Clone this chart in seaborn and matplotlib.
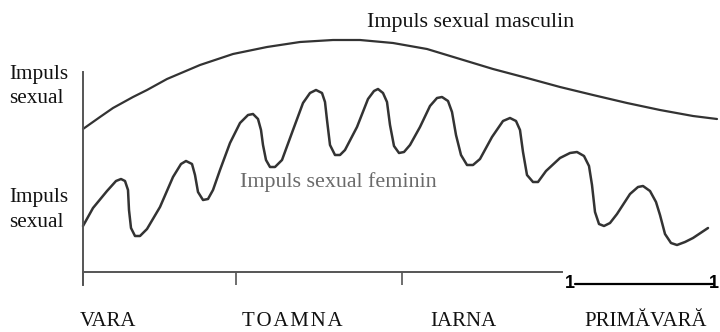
import matplotlib
matplotlib.use("Agg")
import matplotlib.pyplot as plt
import seaborn as sns
import pandas as pd

# time along the year (arbitrary units, 0 = start of summer) and drive level
female_t = [0.0, 1.0, 2.4, 3.3, 3.8, 4.2, 4.5, 4.6, 4.8, 5.2, 5.7, 6.4, 7.7, 9.0, 9.8, 10.3,
            10.9, 11.2, 11.5, 12.0, 12.5, 13.0, 13.7, 14.7, 15.7, 16.5, 17.0, 17.5, 17.8, 18.0,
            18.3, 18.7, 19.2, 19.9, 21.0, 22.0, 22.7, 23.3, 23.9, 24.2, 24.4, 24.7, 25.2, 25.7,
            26.2, 27.4, 28.5, 29.1, 29.5, 30.0, 30.4, 30.7, 31.1, 31.6, 32.1, 32.7, 33.7, 34.7,
            35.4, 35.9, 36.5, 36.9, 37.3, 37.8, 38.4, 39.0, 39.7, 40.9, 42.0, 42.7, 43.3, 43.7,
            44.0, 44.4, 45.0, 45.5, 46.3, 47.7, 48.7, 49.4, 50.1, 50.6, 50.9, 51.2, 51.6, 52.1,
            52.7, 53.4, 54.7, 55.5, 56.0, 56.7, 57.3, 57.7, 58.2, 58.8, 59.4, 60.2, 61.0, 62.5]
female_level = [4.6, 6.4, 8.1, 9.1, 9.3, 9.1, 8.2, 6.2, 4.4, 3.6, 3.6, 4.3, 6.5, 9.5, 10.8, 11.1,
                10.8, 9.7, 8.0, 7.2, 7.3, 8.2, 10.2, 12.9, 14.9, 15.7, 15.8, 15.3, 14.2, 12.7,
                11.2, 10.5, 10.5, 11.2, 14.2, 16.9, 17.9, 18.2, 17.9, 17.0, 15.2, 12.7, 11.7, 11.7,
                12.2, 14.5, 17.3, 18.1, 18.3, 17.9, 17.0, 14.7, 12.6, 11.9, 12.0, 12.7, 14.5, 16.6,
                17.4, 17.5, 17.1, 16.0, 13.7, 11.7, 10.7, 10.7, 11.3, 13.5, 15.1, 15.4, 15.1, 14.2,
                12.0, 9.7, 9.0, 9.0, 10.1, 11.4, 11.9, 12.0, 11.6, 10.6, 8.7, 6.0, 4.8, 4.6,
                4.9, 5.8, 7.8, 8.5, 8.6, 8.1, 7.0, 5.7, 3.8, 2.9, 2.7, 3.0, 3.4, 4.4]

male_t = [0.0, 1.7, 3.0, 5.0, 6.4, 8.4, 11.7, 15.0, 18.4, 21.7, 25.0, 27.7, 31.0, 34.4,
          37.7, 41.0, 44.4, 47.7, 51.0, 54.4, 57.7, 61.0, 63.4]
male_level = [14.3, 15.5, 16.4, 17.5, 18.2, 19.3, 20.7, 21.8, 22.5, 23.0, 23.2, 23.2, 22.9, 22.3,
              21.3, 20.3, 19.4, 18.5, 17.7, 16.9, 16.2, 15.6, 15.3]

season_names = ["VARA", "T\u200aO\u200aA\u200aM\u200aN\u200aA", "IARNA", "PRIMĂVARĂ"]
season_pos = [2.5, 20.9, 38.0, 56.3]
season_ticks = [0, 15.3, 31.9]

sns.set_style("white")
plt.rcParams["font.family"] = ["Liberation Serif", "DejaVu Serif"]

fig = plt.figure(figsize=(7.2, 3.32), dpi=100)
ax = fig.add_axes([0, 0, 1, 1])

male = pd.DataFrame({"t": male_t, "level": male_level})
female = pd.DataFrame({"t": female_t, "level": female_level})
sns.lineplot(data=male, x="t", y="level", sort=False, estimator=None, color="#333333",
             lw=1.6, solid_joinstyle="round", solid_capstyle="round", ax=ax)
sns.lineplot(data=female, x="t", y="level", sort=False, estimator=None, color="#333333",
             lw=1.8, solid_joinstyle="round", solid_capstyle="round", ax=ax)

ax.set_xlim(-8.3, 63.7)
ax.set_ylim(-6.0, 27.2)
ax.set_xlabel("")
ax.set_ylabel("")

# axes drawn like the hand-made sketch
for s in ["top", "right"]:
    ax.spines[s].set_visible(False)
ax.spines["left"].set_position(("data", 0))
ax.spines["bottom"].set_position(("data", 0))
ax.spines["left"].set_bounds(-1.3, 20)
ax.spines["bottom"].set_bounds(0, 47.9)
for s in ["left", "bottom"]:
    ax.spines[s].set_color("#555555")
    ax.spines[s].set_linewidth(1.4)
ax.set_xticks(season_ticks)
ax.set_xticklabels([])
ax.set_yticks([])
ax.tick_params(axis="x", direction="out", length=9.5, width=1.2, color="#555555", bottom=True)

for name, pos in zip(season_names, season_pos):
    ax.text(pos, -5.4, name, ha="center", va="baseline", fontsize=15, color="#111111")

for lvl, word in [(19.3, "Impuls"), (16.9, "sexual"), (7.0, "Impuls"), (4.5, "sexual")]:
    ax.text(-7.4, lvl, word, ha="left", va="baseline", fontsize=15.3, color="#111111")

ax.text(28.4, 24.5, "Impuls sexual masculin", ha="left", va="baseline", fontsize=15.8,
        color="#111111")
ax.text(15.7, 8.5, "Impuls sexual feminin", ha="left", va="baseline", fontsize=15.8,
        color="#6a6a6a")

# scale marker at bottom right
ax.plot([49.2, 63.0], [-1.2, -1.2], color="black", lw=1.6, clip_on=False)
ax.text(48.2, -1.6, "1", ha="left", va="baseline", fontsize=13, fontweight="bold",
        family="Liberation Sans", color="black")
ax.text(63.6, -1.6, "1", ha="right", va="baseline", fontsize=13, fontweight="bold",
        family="Liberation Sans", color="black")

fig.savefig("out.png", dpi=100)
